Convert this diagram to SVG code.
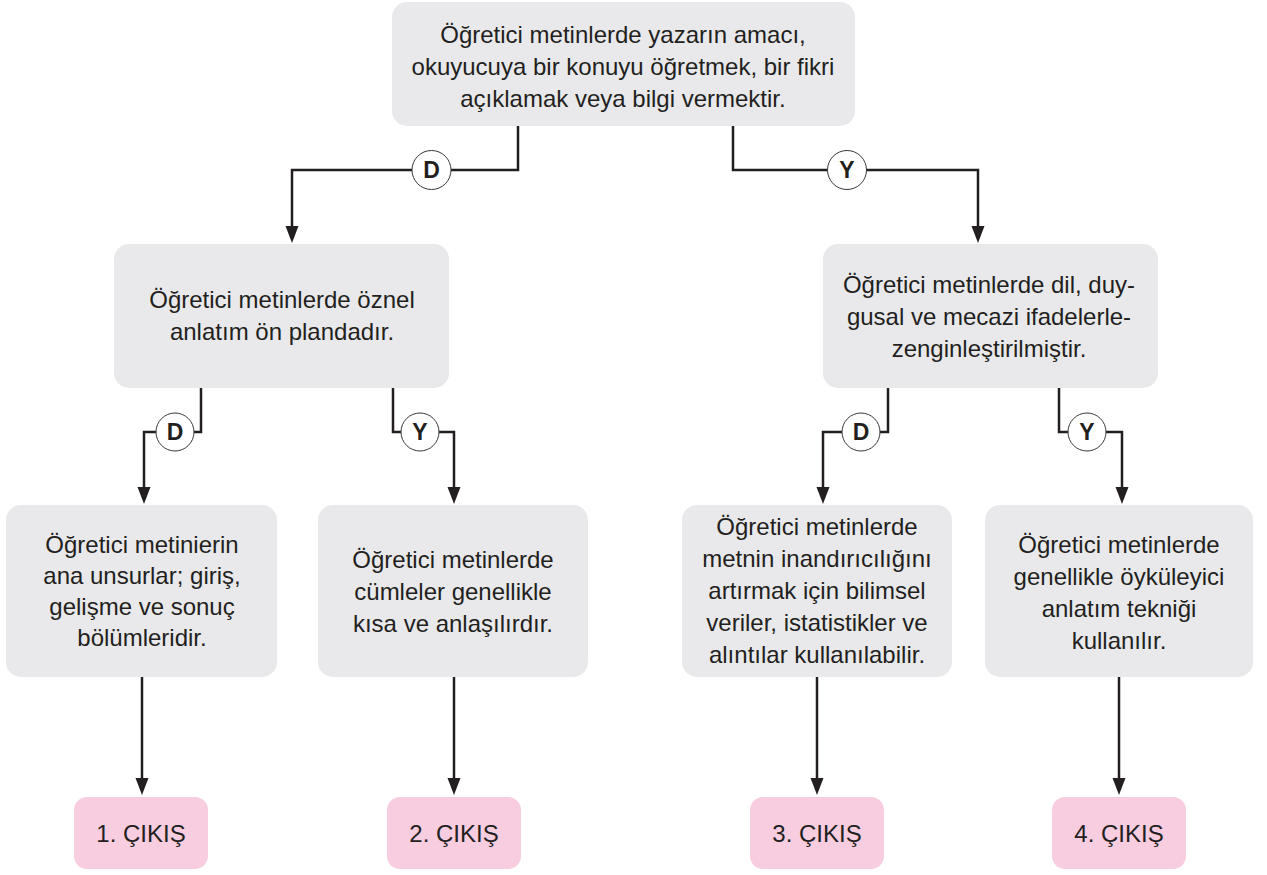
<svg xmlns="http://www.w3.org/2000/svg" width="1267" height="875" viewBox="0 0 1267 875">
<defs>
<style>
.box{fill:#e9e9eb;}
.exit{fill:#f8cde0;}
.t{font-family:"Liberation Sans",Arial,sans-serif;font-size:24px;fill:#231f20;text-anchor:middle;}
.lbl{font-family:"Liberation Sans",Arial,sans-serif;font-size:23px;font-weight:bold;fill:#231f20;text-anchor:middle;}
.ln{fill:none;stroke:#231f20;stroke-width:2.5;}
.arr{fill:none;stroke:#231f20;stroke-width:2.5;marker-end:url(#ah);}
.c{fill:#ffffff;stroke:#3a3738;stroke-width:1;}
</style>
<marker id="ah" markerUnits="userSpaceOnUse" markerWidth="18" markerHeight="14" refX="9" refY="6.5" orient="auto" viewBox="0 0 18 13">
<path d="M0,0 L17,6.5 L0,13 z" fill="#231f20"/>
</marker>
</defs>
<g id="connectors">
<polyline class="ln" points="518,126 518,170 451,170"/>
<polyline class="arr" points="412,170 292,170 292,235"/>
<polyline class="ln" points="733,126 733,170 828,170"/>
<polyline class="arr" points="866,170 978,170 978,235"/>
<polyline class="ln" points="201,388 201,432 194,432"/>
<polyline class="arr" points="156,432 144,432 144,496"/>
<polyline class="ln" points="393,388 393,432 401,432"/>
<polyline class="arr" points="439,432 454,432 454,496"/>
<polyline class="ln" points="888,388 888,432 880,432"/>
<polyline class="arr" points="842,432 823,432 823,496"/>
<polyline class="ln" points="1059,388 1059,432 1068,432"/>
<polyline class="arr" points="1106,432 1122,432 1122,496"/>
<polyline class="arr" points="142,677 142,787"/>
<polyline class="arr" points="454,677 454,787"/>
<polyline class="arr" points="817,677 817,787"/>
<polyline class="arr" points="1119,677 1119,787"/>
<g id="lbl-d1"><circle class="c" cx="431.5" cy="170" r="19.5"/><text class="lbl" x="431.5" y="178">D</text></g>
<g id="lbl-y1"><circle class="c" cx="847" cy="170" r="19.5"/><text class="lbl" x="847" y="178">Y</text></g>
<g id="lbl-d2"><circle class="c" cx="175" cy="432" r="19"/><text class="lbl" x="175" y="440">D</text></g>
<g id="lbl-y2"><circle class="c" cx="420" cy="432" r="19"/><text class="lbl" x="420" y="440">Y</text></g>
<g id="lbl-d3"><circle class="c" cx="861" cy="432" r="19"/><text class="lbl" x="861" y="440">D</text></g>
<g id="lbl-y3"><circle class="c" cx="1087" cy="432" r="19"/><text class="lbl" x="1087" y="440">Y</text></g>
</g>
<g id="root">
<rect class="box" x="392" y="2" width="463" height="124" rx="15"/>
<text class="t" x="623" y="43">Öğretici metinlerde yazarın amacı,</text>
<text class="t" x="623" y="75">okuyucuya bir konuyu öğretmek, bir fikri</text>
<text class="t" x="623" y="107">açıklamak veya bilgi vermektir.</text>
</g>
<g id="n-left">
<rect class="box" x="114" y="244" width="335" height="144" rx="15"/>
<text class="t" x="282" y="308">Öğretici metinlerde öznel</text>
<text class="t" x="282" y="340">anlatım ön plandadır.</text>
</g>
<g id="n-right">
<rect class="box" x="823" y="244" width="335" height="144" rx="15"/>
<text class="t" x="989" y="293">Öğretici metinlerde dil, duy-</text>
<text class="t" x="989" y="325">gusal ve mecazi ifadelerle-</text>
<text class="t" x="989" y="357">zenginleştirilmiştir.</text>
</g>
<g id="n1">
<rect class="box" x="6" y="505" width="271" height="172" rx="15"/>
<text class="t" x="142" y="553">Öğretici metinierin</text>
<text class="t" x="142" y="584">ana unsurlar; giriş,</text>
<text class="t" x="142" y="615">gelişme ve sonuç</text>
<text class="t" x="142" y="646">bölümleridir.</text>
</g>
<g id="n2">
<rect class="box" x="318" y="505" width="270" height="172" rx="15"/>
<text class="t" x="453" y="568">Öğretici metinlerde</text>
<text class="t" x="453" y="600">cümleler genellikle</text>
<text class="t" x="453" y="632">kısa ve anlaşılırdır.</text>
</g>
<g id="n3">
<rect class="box" x="682" y="505" width="270" height="172" rx="15"/>
<text class="t" x="817" y="535">Öğretici metinlerde</text>
<text class="t" x="817" y="567">metnin inandırıcılığını</text>
<text class="t" x="817" y="599">artırmak için bilimsel</text>
<text class="t" x="817" y="631">veriler, istatistikler ve</text>
<text class="t" x="817" y="663">alıntılar kullanılabilir.</text>
</g>
<g id="n4">
<rect class="box" x="985" y="505" width="268" height="172" rx="15"/>
<text class="t" x="1119" y="553">Öğretici metinlerde</text>
<text class="t" x="1119" y="585">genellikle öyküleyici</text>
<text class="t" x="1119" y="617">anlatım tekniği</text>
<text class="t" x="1119" y="649">kullanılır.</text>
</g>
<g id="exit1"><rect class="exit" x="74" y="797" width="134" height="72" rx="13"/><text class="t" x="141" y="842">1. ÇIKIŞ</text></g>
<g id="exit2"><rect class="exit" x="387" y="797" width="134" height="72" rx="13"/><text class="t" x="454" y="842">2. ÇIKIŞ</text></g>
<g id="exit3"><rect class="exit" x="750" y="797" width="134" height="72" rx="13"/><text class="t" x="817" y="842">3. ÇIKIŞ</text></g>
<g id="exit4"><rect class="exit" x="1052" y="797" width="134" height="72" rx="13"/><text class="t" x="1119" y="842">4. ÇIKIŞ</text></g>
</svg>
